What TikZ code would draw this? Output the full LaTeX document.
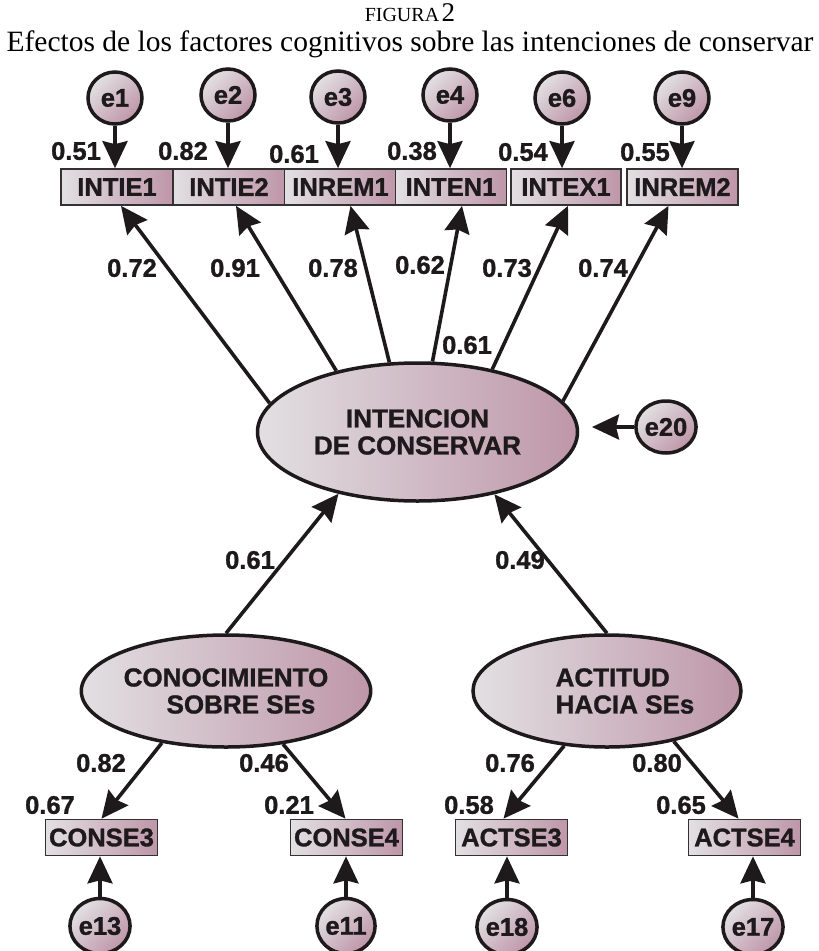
\documentclass[tikz,border=0pt]{standalone}
\usepackage{fontspec}
\setmainfont{Liberation Serif}
\newfontfamily\arialf{Liberation Sans}[BoldFeatures={FakeBold=1.2}]
\usetikzlibrary{shapes.geometric,arrows.meta}
\definecolor{ink}{HTML}{1E1A1B}
\definecolor{shL}{RGB}{226,224,226}
\definecolor{shR}{RGB}{190,150,168}
\newcommand{\labf}{\arialf\bfseries\fontsize{25.5}{27}\selectfont}
\newcommand{\latf}{\arialf\bfseries\fontsize{26}{27}\selectfont}
\tikzset{
  lat/.style={ellipse, draw=ink, line width=3.5pt, left color=shL, right color=shR,
    font=\latf, text=ink, align=left, inner sep=0pt},
  err/.style={ellipse, draw=ink, line width=3.5pt, top color=shL, bottom color=shR,
    shading angle=45, minimum width=54pt, minimum height=52pt, inner sep=0pt,
    font=\labf, text=ink},
  obs/.style={rectangle, draw=ink!90, line width=1.7pt, left color=shL, right color=shR,
    minimum width=112pt, minimum height=36pt, inner sep=0pt, font=\labf, text=ink},
  arr/.style={line width=3.6pt, draw=ink, -{Stealth[length=27pt,width=25pt,inset=3pt]}},
  num/.style={font=\labf, text=ink, inner sep=0pt}
}
\begin{document}
\begin{tikzpicture}[x=1pt,y=-1pt]
\useasboundingbox (0,0) rectangle (819,951);
% title
\node[anchor=base, inner sep=0pt] (fig) at (410,21)
  {{\fontsize{20}{20}\selectfont FIGURA} {\fontsize{27}{27}\selectfont 2}};
\node[anchor=base, inner sep=0pt] (tit) at (410,51)
  {\fontsize{29.5}{30}\selectfont Efectos de los factores cognitivos sobre las intenciones de conservar};
% top indicator boxes
\node[obs] (b1) at (117,187) {INTIE1};
\node[obs] (b2) at (229,187) {INTIE2};
\node[obs] (b3) at (340.5,187) {INREM1};
\node[obs, minimum width=111pt] (b4) at (451,187) {INTEN1};
\node[obs, minimum width=110pt] (b5) at (566,187) {INTEX1};
\node[obs, minimum width=111pt] (b6) at (682.5,187) {INREM2};
% top errors
\node[err] (e1) at (115,98) {e1};
\node[err] (e2) at (228,95) {e2};
\node[err] (e3) at (338,97) {e3};
\node[err] (e4) at (450,95) {e4};
\node[err] (e6) at (562,98) {e6};
\node[err] (e9) at (682,98) {e9};
% main latent
\node[lat, align=center, minimum width=320pt, minimum height=138pt] (int) at (417.5,432)
  {INTENCION\\DE CONSERVAR};
\node[err, minimum width=57pt, minimum height=52pt] (e20) at (666,427) {e20};
\coordinate (e20tip) at (592,427);
% lower latents
\node[lat, align=center, minimum width=272pt, minimum height=112pt] (con) at (226,691)
  {CONOCIMIENTO\\\hspace*{30pt}SOBRE SEs};
\node[lat, align=left, minimum width=268pt, minimum height=112pt] (act) at (607,691)
  {\hspace*{36pt}ACTITUD\\\hspace*{36pt}HACIA SEs};
% lower boxes
\node[obs] (c3) at (101.5,837.5) {CONSE3};
\node[obs] (c4) at (346.5,837.5) {CONSE4};
\node[obs] (a3) at (511.5,837.5) {ACTSE3};
\node[obs] (a4) at (744.5,837.5) {ACTSE4};
% lower errors
\node[err, minimum width=55pt, minimum height=55pt] (e13) at (100,926) {e13};
\node[err, minimum width=55pt, minimum height=55pt] (e11) at (346,926) {e11};
\node[err, minimum width=55pt, minimum height=55pt] (e18) at (507,927) {e18};
\node[err, minimum width=55pt, minimum height=55pt] (e17) at (753,927) {e17};
% error arrows top
\foreach \e/\b in {e1/b1,e2/b2,e3/b3,e4/b4,e6/b5,e9/b6}
  \draw[arr] (\e) -- (\e |- \b.north);
% loadings to top boxes
\draw[arr] (int.169.6) -- ([xshift=4pt]b1.south);
\draw[arr] (int.143.5) -- ([xshift=7pt]b2.south);
\draw[arr] (int.112.9) -- ([xshift=10pt]b3.south);
\draw[arr] (int.78.4) -- ([xshift=11pt]b4.south);
\draw[arr] (int.40.7) -- ([xshift=2pt]b5.south);
\draw[arr] (int.12.5) -- ([xshift=-14pt]b6.south);
% e20
\draw[arr] (e20) -- (e20tip);
% structural paths
\draw[arr] (con.north) -- (int.218.5);
\draw[arr] (act.north) -- (int.321.3);
% lower loadings
\draw[arr] (con.219) -- (c3.north);
\draw[arr] (con.-43) -- ([xshift=-1pt]c4.north);
\draw[arr] (act.232) -- ([xshift=-8pt]a3.north);
\draw[arr] (act.-37) -- ([xshift=-6pt]a4.north);
% lower error arrows
\foreach \e/\b in {e13/c3,e11/c4,e18/a3,e17/a4}
  \draw[arr] (\e) -- (\e |- \b.south);
% numbers
\node[num] (n51) at (76,151) {0.51};
\node[num] (n82) at (183,151) {0.82};
\node[num] (n61a) at (294,154) {0.61};
\node[num] (n38) at (412,151) {0.38};
\node[num] (n54) at (523,152) {0.54};
\node[num] (n55) at (645,152) {0.55};
\node[num] (n72) at (132,268) {0.72};
\node[num] (n91) at (235,268) {0.91};
\node[num] (n78) at (333,268) {0.78};
\node[num] (n62) at (420,265) {0.62};
\node[num] (n73) at (507,268) {0.73};
\node[num] (n74) at (603,268) {0.74};
\node[num] (n61b) at (467,345) {0.61};
\node[num] (n61c) at (250,560) {0.61};
\node[num] (n49) at (520,560) {0.49};
\node[num] (n82b) at (101,763) {0.82};
\node[num] (n46) at (264,763) {0.46};
\node[num] (n67) at (50,805) {0.67};
\node[num] (n21) at (289,805) {0.21};
\node[num] (n76) at (510,763) {0.76};
\node[num] (n80) at (657,763) {0.80};
\node[num] (n58) at (469,805) {0.58};
\node[num] (n65) at (681,805) {0.65};
\end{tikzpicture}
\end{document}
